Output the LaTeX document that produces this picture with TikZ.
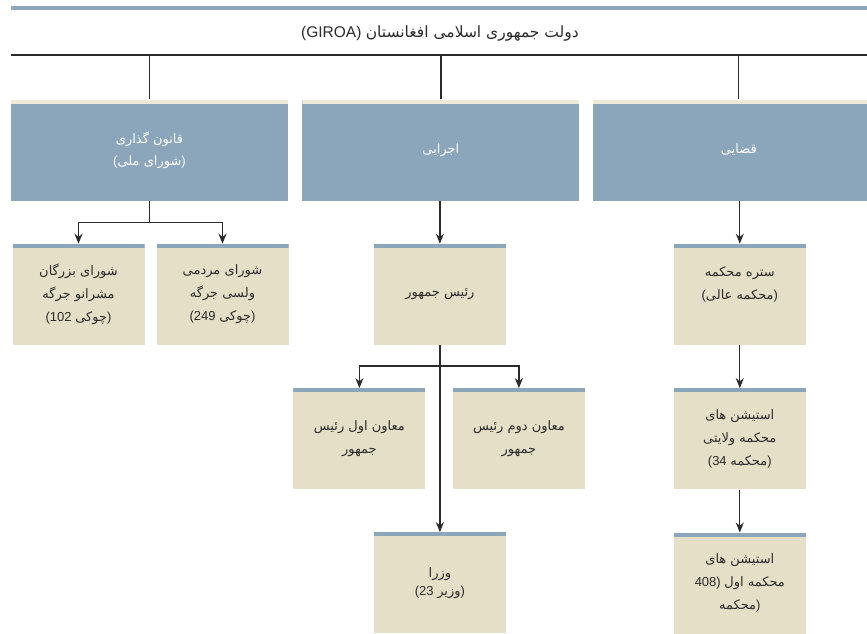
\documentclass[tikz,border=0pt]{standalone}
\usepackage{fontspec}
\setmainfont{Liberation Sans}
\newfontfamily\arabicfont[Script=Arabic]{DejaVu Sans}
\TeXXeTstate=1
\usetikzlibrary{arrows.meta, positioning}
\definecolor{orgblue}{HTML}{8BA6BB}
\definecolor{orgcream}{HTML}{E5DFC7}
\definecolor{orgpale}{HTML}{EFE9D7}
\definecolor{orgline}{HTML}{2B2B2B}
\newcommand{\fa}[1]{{\arabicfont #1}}
\newcommand{\rtl}[1]{\beginR #1\endR}

\begin{document}
\begin{tikzpicture}[
    x=1pt, y=1pt,
    branch/.style={fill=orgblue, minimum width=277pt, minimum height=101pt, inner sep=0pt, text=white, font=\fontsize{13}{22}\selectfont, align=center,
        path picture={\fill[orgpale] (path picture bounding box.north west) rectangle ([yshift=-4pt]path picture bounding box.north east);}},
    office/.style={fill=orgcream, minimum width=132pt, minimum height=101pt, inner sep=0pt, text=orgline, font=\fontsize{13}{23}\selectfont, align=center,
        path picture={\fill[orgblue] (path picture bounding box.north west) rectangle ([yshift=-4pt]path picture bounding box.north east);}},
    link/.style={draw=orgline, line width=1.3pt},
    arr/.style={link, -{Stealth[length=10pt, width=8pt]}},
]
\useasboundingbox (0,0) rectangle (867,-633);
\clip (0,0) rectangle (867,-633);

% Title
\fill[orgblue] (11,-6) rectangle (867,-10);
\node[font=\fontsize{15.5}{18}\selectfont, text=orgline] (gov) at (440,-33) {\rtl{\fa{دولت جمهوری اسلامی افغانستان} \beginL(GIROA)\endL}};
\coordinate (barL) at (11,-55);
\coordinate (barR) at (867,-55);
\draw[link] (barL) -- (barR);

% Branches
\node[branch] (leg) at (149.5,-150) {\rtl{\fa{قانون گذاری}}\\ \rtl{)\fa{شورای ملی}(}};
\node[branch, right=14pt of leg] (exe) {\rtl{\fa{اجرایی}}};
\node[branch, minimum width=292pt, right=13pt of exe] (jud) {\rtl{\fa{قضایی}}};

\foreach \b in {leg, exe, jud} {
    \draw[link] (\b.north |- barL) -- (\b.north);
}

% Legislative
\node[office, below=43pt of leg, xshift=-71pt] (sen) {\rtl{\fa{شورای بزرگان}}\\ \rtl{\fa{مشرانو جرگه}}\\ \rtl{)\fa{چوکی}\ \beginL(102\endL}};
\node[office, below=43pt of leg, xshift=73pt] (wol) {\rtl{\fa{شورای مردمی}}\\ \rtl{\fa{ولسی جرگه}}\\ \rtl{)\fa{چوکی}\ \beginL(249\endL}};

% Executive
\node[office, below=43pt of exe, xshift=-1pt] (pres) {\rtl{\fa{رئیس جمهور}}};
\node[office, below=43pt of pres, xshift=-80.5pt] (vp1) {\rtl{\fa{معاون اول رئیس}}\\ \rtl{\fa{جمهور}}};
\node[office, below=43pt of pres, xshift=79pt] (vp2) {\rtl{\fa{معاون دوم رئیس}}\\ \rtl{\fa{جمهور}}};
\node[office, below=187pt of pres, font=\fontsize{13}{18}\selectfont] (min) {\rtl{\fa{وزرا}}\\ \rtl{)\fa{وزیر}\ \beginL(23\endL}};

% Judicial
\node[office, below=43pt of jud, xshift=1pt] (sup) {\rtl{\fa{ستره محکمه}}\\ \rtl{)\fa{محکمه عالی}(}\\ \mbox{}};
\node[office, below=43pt of sup] (prov) {\rtl{\fa{استیشن های}}\\ \rtl{\fa{محکمه ولایتی}}\\ \rtl{)\fa{محکمه}\ \beginL(34\endL}};
\node[office, below=43pt of prov] (prim) {\rtl{\fa{استیشن های}}\\ \rtl{\fa{محکمه اول}\ \beginL408)\endL}\\ \rtl{)\fa{محکمه}}};

% Connectors
\draw[link] (leg.south) -- ++(0,-22) coordinate (legj);
\draw[arr] (legj) -| (sen.north);
\draw[arr] (legj) -| (wol.north);

\draw[arr] (exe.south -| pres.north) -- (pres.north);
\draw[arr] (pres.south) -- (min.north);
\draw[link] (pres.south) -- ++(0,-21) coordinate (presj);
\draw[arr] (presj) -| (vp1.north);
\draw[arr] (presj) -| (vp2.north);

\draw[arr] (jud.south -| sup.north) -- (sup.north);
\draw[arr] (sup.south) -- (prov.north);
\draw[arr] (prov.south) -- (prim.north);

\end{tikzpicture}
\end{document}
